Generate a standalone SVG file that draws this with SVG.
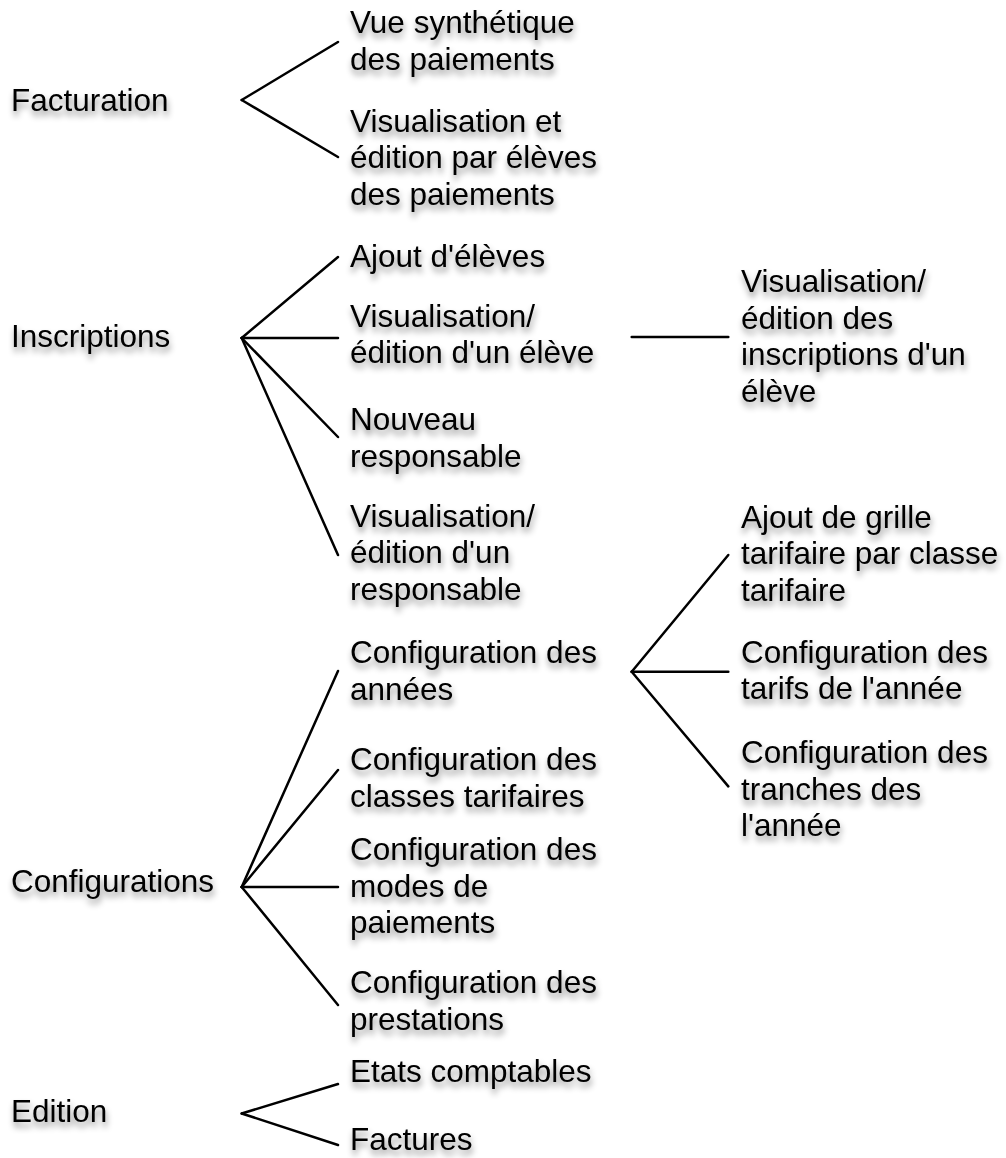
<svg xmlns="http://www.w3.org/2000/svg" width="1006" height="1158" viewBox="0 0 1006 1158">
<defs>
<filter id="sh" x="-10%" y="-30%" width="130%" height="180%">
<feDropShadow dx="1" dy="5" stdDeviation="3" flood-color="#000" flood-opacity="0.45"/>
</filter>
</defs>
<style>
text{font-family:"Liberation Sans",Arial,Helvetica,sans-serif;font-size:31.5px;fill:#000;filter:url(#sh)}
.c line{stroke:#000;stroke-width:2.5;stroke-linecap:round;fill:none}
</style>
<rect width="1006" height="1158" fill="#fff"/>
<g class="c" id="connectors">
<line x1="241.7" y1="100" x2="338" y2="42"/>
<line x1="241.7" y1="100" x2="338" y2="157"/>
<line x1="241.7" y1="338" x2="338" y2="257"/>
<line x1="241.7" y1="338" x2="338" y2="338"/>
<line x1="241.7" y1="338" x2="338" y2="437"/>
<line x1="241.7" y1="338" x2="338" y2="555"/>
<line x1="631.7" y1="337" x2="728.3" y2="337"/>
<line x1="241.7" y1="887" x2="338" y2="671"/>
<line x1="241.7" y1="887" x2="338" y2="770"/>
<line x1="241.7" y1="887" x2="338" y2="887"/>
<line x1="241.7" y1="887" x2="338" y2="1005"/>
<line x1="631.7" y1="671.7" x2="728.3" y2="555"/>
<line x1="631.7" y1="671.7" x2="728.3" y2="671.7"/>
<line x1="631.7" y1="671.7" x2="728.3" y2="786.4"/>
<line x1="241.7" y1="1113.5" x2="338" y2="1084"/>
<line x1="241.7" y1="1113.5" x2="338" y2="1145"/>
</g>
<g id="facturation"><text x="11" y="111">Facturation</text></g>
<g id="inscriptions"><text x="11" y="347">Inscriptions</text></g>
<g id="configurations"><text x="11" y="892">Configurations</text></g>
<g id="edition"><text x="11" y="1122">Edition</text></g>
<g id="vue-synthetique"><text x="350"><tspan x="350" y="33.3">Vue synthétique</tspan><tspan x="350" y="70">des paiements</tspan></text></g>
<g id="visu-edition-paiements"><text x="350"><tspan x="350" y="131.7">Visualisation et</tspan><tspan x="350" y="168.3">édition par élèves</tspan><tspan x="350" y="205">des paiements</tspan></text></g>
<g id="ajout-eleves"><text x="350" y="266.7">Ajout d'élèves</text></g>
<g id="visu-eleve"><text x="350"><tspan x="350" y="326.7">Visualisation/</tspan><tspan x="350" y="363.3">édition d'un élève</tspan></text></g>
<g id="nouveau-responsable"><text x="350"><tspan x="350" y="430">Nouveau</tspan><tspan x="350" y="466.7">responsable</tspan></text></g>
<g id="visu-responsable"><text x="350"><tspan x="350" y="526.7">Visualisation/</tspan><tspan x="350" y="563.3">édition d'un</tspan><tspan x="350" y="600">responsable</tspan></text></g>
<g id="config-annees"><text x="350"><tspan x="350" y="663.3">Configuration des</tspan><tspan x="350" y="700">années</tspan></text></g>
<g id="config-classes"><text x="350"><tspan x="350" y="770">Configuration des</tspan><tspan x="350" y="806.7">classes tarifaires</tspan></text></g>
<g id="config-modes"><text x="350"><tspan x="350" y="860">Configuration des</tspan><tspan x="350" y="896.7">modes de</tspan><tspan x="350" y="933.3">paiements</tspan></text></g>
<g id="config-prestations"><text x="350"><tspan x="350" y="993.3">Configuration des</tspan><tspan x="350" y="1030">prestations</tspan></text></g>
<g id="etats-comptables"><text x="350" y="1081.7">Etats comptables</text></g>
<g id="factures"><text x="350" y="1150">Factures</text></g>
<g id="visu-inscriptions"><text x="741"><tspan x="741" y="292">Visualisation/</tspan><tspan x="741" y="328.7">édition des</tspan><tspan x="741" y="365.4">inscriptions d'un</tspan><tspan x="741" y="402">élève</tspan></text></g>
<g id="ajout-grille"><text x="741"><tspan x="741" y="527.5">Ajout de grille</tspan><tspan x="741" y="564.2">tarifaire par classe</tspan><tspan x="741" y="601">tarifaire</tspan></text></g>
<g id="config-tarifs"><text x="741"><tspan x="741" y="662.5">Configuration des</tspan><tspan x="741" y="699.2">tarifs de l'année</tspan></text></g>
<g id="config-tranches"><text x="741"><tspan x="741" y="763">Configuration des</tspan><tspan x="741" y="799.7">tranches des</tspan><tspan x="741" y="836.4">l'année</tspan></text></g>
</svg>
